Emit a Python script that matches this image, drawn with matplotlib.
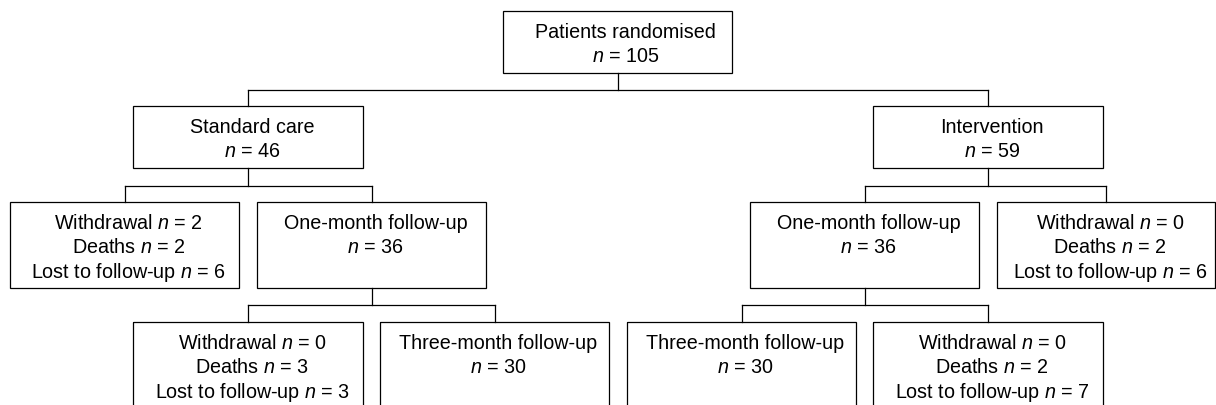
import matplotlib
matplotlib.use("Agg")
import matplotlib.pyplot as plt
from matplotlib.patches import Rectangle

plt.rcParams['font.family'] = ['Liberation Sans', 'DejaVu Sans']
plt.rcParams['mathtext.fontset'] = 'custom'
plt.rcParams['mathtext.it'] = 'Liberation Sans:italic'
plt.rcParams['mathtext.rm'] = 'Liberation Sans'

# numbers in the flow chart
randomised_n = 105
arm_names = ["Standard care", "Intervention"]
arm_n = [46, 59]
month1_n = [36, 36]
month3_n = [30, 30]
loss_labels = ["Withdrawal", "Deaths", "Lost to follow-up"]
loss_month1 = [[2, 2, 6], [0, 2, 6]]
loss_month3 = [[0, 3, 3], [0, 2, 7]]

W, H = 1216, 406
fig = plt.figure(figsize=(W / 100, H / 100), dpi=100)
ax = fig.add_axes([0, 0, 1, 1])
ax.set_xlim(0, W)
ax.set_ylim(H, 0)
ax.axis("off")

LW = 0.9
FS = 14.2


def nstr(v):
    return r"$n$ = " + str(v)


def box(x0, x1, y0, y1, lines, dx=4):
    ax.add_patch(Rectangle((x0, y0), x1 - x0, y1 - y0, fill=False,
                           edgecolor="black", lw=LW))
    cx = (x0 + x1) / 2 + dx
    for i, s in enumerate(lines):
        ax.text(cx, y0 + 20.5 + i * 24.5, s, ha="center", va="center",
                fontsize=FS, color="black")
    return (x0, x1, y0, y1)


def bracket(parent, children, ymid):
    px = (parent[0] + parent[1]) / 2
    ax.plot([px, px], [parent[3], ymid], color="black", lw=LW)
    cxs = [(c[0] + c[1]) / 2 for c in children]
    ax.plot([min(cxs), max(cxs)], [ymid, ymid], color="black", lw=LW)
    for c, cx in zip(children, cxs):
        ax.plot([cx, cx], [ymid, c[2]], color="black", lw=LW)


top = box(503, 732, 12, 74, ["Patients randomised", nstr(randomised_n)], dx=8)

arm_x = [(133, 363), (873, 1103)]
arms = [box(x0, x1, 107, 169, [name, nstr(v)])
        for (x0, x1), name, v in zip(arm_x, arm_names, arm_n)]
bracket(top, arms, 91)


def loss_lines(vals):
    return [lab + " " + nstr(v) for lab, v in zip(loss_labels, vals)]


# one-month level: [loss box, follow-up box] per arm
lvl1_x = [[(10, 239), (257, 486)], [(997, 1215), (750, 979)]]
lvl3_x = [[(133, 363), (380, 609)], [(873, 1103), (627, 856)]]

for a in range(2):
    lx, fx = lvl1_x[a]
    loss1 = box(lx[0], lx[1], 203, 289, loss_lines(loss_month1[a]))
    fu1 = box(fx[0], fx[1], 203, 289, ["One-month follow-up", nstr(month1_n[a])])
    bracket(arms[a], [loss1, fu1], 187)

    lx3, fx3 = lvl3_x[a]
    loss3 = box(lx3[0], lx3[1], 323, 430, loss_lines(loss_month3[a]))
    fu3 = box(fx3[0], fx3[1], 323, 430, ["Three-month follow-up", nstr(month3_n[a])])
    bracket(fu1, [loss3, fu3], 306)

fig.savefig("out.png", dpi=100)
